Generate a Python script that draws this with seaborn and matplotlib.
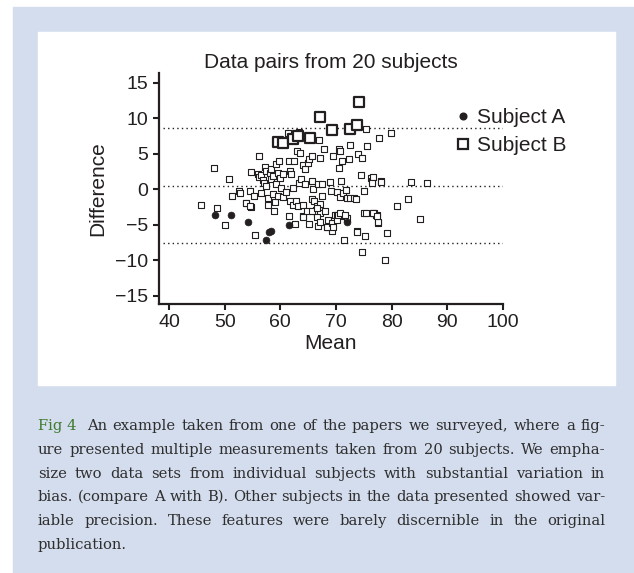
import matplotlib
matplotlib.use("Agg")
import matplotlib.pyplot as plt
import seaborn as sns
import pandas as pd
from matplotlib.patches import Rectangle
from matplotlib.lines import Line2D

# ---------------------------------------------------------------------------
# Data (mean vs. difference, Bland-Altman style)

others_mean = [
    45.7, 48.1, 48.6, 50.1, 50.8, 51.4, 52.5, 52.7, 53.9, 54.7, 54.5, 54.8, 55.3, 56.2,
    55.4, 55.9, 56.2, 56.5, 56.6, 56.8, 57.1, 57.3, 57.4, 57.5, 57.8, 57.8, 58.1, 58.3,
    58.4, 58.6, 58.7, 58.9, 59.0, 59.2, 59.3, 59.5, 59.6, 59.8, 59.9, 60.2, 60.4, 60.5,
    61.0, 61.6, 61.7, 61.8, 61.6, 62.0, 62.2, 62.3, 62.4, 62.7, 62.9, 63.0, 63.2, 63.3,
    63.5, 63.8, 64.0, 64.0, 64.1, 64.4, 64.4, 64.8, 64.9, 65.1, 65.2, 65.6, 65.6, 65.7,
    65.9, 66.0, 66.2, 66.4, 66.5, 66.5, 66.8, 66.8, 67.0, 67.1, 67.1, 67.2, 67.4, 67.5,
    67.8, 68.1, 68.3, 68.6, 68.9, 69.1, 69.2, 69.3, 69.4, 69.6, 69.8, 70.1, 70.2, 70.5,
    70.6, 70.7, 70.9, 71.0, 70.8, 71.3, 71.4, 71.5, 71.8, 71.9, 71.9, 72.3, 72.5, 72.6,
    73.2, 73.6, 73.8, 74.0, 74.4, 74.6, 74.7, 75.0, 75.1, 75.2, 75.4, 75.5, 76.2, 76.5,
    76.7, 77.3, 77.5, 77.8, 78.0, 61.3, 63.4, 79.9, 76.6, 76.4, 78.1, 83.4, 86.4, 81.0,
    83.0, 76.8, 77.2, 77.6, 85.1, 79.1, 78.8, 53.8, 54.5, 64.1, 65.7, 66.5, 66.6, 67.2,
    68.4, 69.2, 69.4, 70.1, 70.4, 70.7, 71.6, 73.8, 75.4, 76.7, 77.4,
]
others_diff = [
    -2.2, 3.0, -2.7, -5.0, 1.5, -0.9, -0.2, -0.6, -2.0, 2.4, -0.3, -2.5, -1.0, 4.6,
    -6.4, 2.1, 1.7, -0.5, 2.0, 1.3, 0.8, 3.1, 2.5, 0.4, -1.2, -2.2, 2.3, 1.4,
    2.8, 1.8, -0.7, -3.0, -1.8, 3.5, 0.7, -1.0, 2.3, 3.9, 1.6, 0.2, -1.1, 2.1,
    -0.4, 3.9, 2.5, -1.7, -3.8, 2.1, 0.1, -2.2, 3.9, -4.9, -1.7, 5.4, -2.3, 0.8,
    5.1, 1.4, -2.2, -3.8, 3.4, 0.7, 2.8, -3.0, 3.7, -4.9, 4.2, 4.6, 1.2, -1.4,
    0.0, -1.7, -3.0, -2.9, -3.4, -2.3, -5.2, 0.7, 6.9, -2.1, -3.3, 4.4, -0.9, 0.7,
    5.6, -3.0, -5.3, -4.3, 1.0, -0.2, -5.2, -5.9, 4.6, -4.3, -3.7, -0.4, -3.6, 3.0,
    5.6, 5.3, 1.1, 3.9, -1.1, -0.5, -7.1, -3.8, -0.1, -4.1, -1.3, 4.3, 6.2, -1.2,
    -1.2, -1.4, -5.9, 4.9, 2.0, 4.4, -8.8, -0.2, -3.4, -6.6, 8.4, 6.1, 1.6, 1.2,
    -3.4, -3.6, -4.7, 7.2, 1.1, 7.9, 8.1, 7.9, 1.7, 0.8, 1.0, 1.0, 0.9, -2.3,
    -1.4, -3.3, -3.7, -4.6, -4.2, -6.1, -10.0, -1.9, -2.3, -3.9, -3.1, -2.7, -3.9, -4.6,
    -5.3, -4.7, -5.3, -4.4, -3.6, -3.3, -3.7, -6.0, -3.4, -3.3, -3.8,
]

subject_a_mean = [48.3, 51.1, 54.1, 58.0, 58.3, 57.5, 61.6, 71.9]
subject_a_diff = [-3.7, -3.7, -4.6, -6.0, -5.9, -7.2, -5.0, -4.6]

subject_b_mean = [59.6, 60.4, 62.3, 63.2, 65.4, 67.2, 69.2, 72.5, 73.7, 74.2]
subject_b_diff = [6.7, 6.5, 7.1, 7.5, 7.2, 10.2, 8.3, 8.4, 9.0, 12.2]

# bias and limits of agreement (dotted lines)
ref_lines = [8.55, 0.5, -7.6]

x_ticks = [40, 50, 60, 70, 80, 90, 100]
y_ticks = [-15, -10, -5, 0, 5, 10, 15]

title = "Data pairs from 20 subjects"
caption_lines = [
    "An example taken from one of the papers we surveyed, where a fig-",
    "ure presented multiple measurements taken from 20 subjects. We empha-",
    "size two data sets from individual subjects with substantial variation in",
    "bias. (compare A with B). Other subjects in the data presented showed var-",
    "iable precision. These features were barely discernible in the original",
    "publication.",
]

# ---------------------------------------------------------------------------

BLUE = "#d4ddee"
INK = "#231f20"
GREEN = "#3d7a2c"
CAPTION_INK = "#2e2e2e"

sns.set_style("ticks")
plt.rcParams["font.family"] = ["Liberation Sans", "DejaVu Sans"]

W, H = 634, 573
fig = plt.figure(figsize=(W / 100, H / 100), dpi=100)
fig.patch.set_facecolor("white")
fig.patches.append(Rectangle((13 / W, 0), 1 - 13 / W, (H - 7) / H,
                             transform=fig.transFigure, color=BLUE, zorder=-2))
fig.patches.append(Rectangle((38 / W, (H - 385) / H), (615 - 38) / W, (385 - 32) / H,
                             transform=fig.transFigure, color="white", zorder=-1))

ax = fig.add_axes([159 / W, (H - 304) / H, (503 - 159) / W, (304 - 73) / H])
ax.patch.set_alpha(0)

others = pd.DataFrame({"mean": others_mean, "diff": others_diff})
subj_a = pd.DataFrame({"mean": subject_a_mean, "diff": subject_a_diff})
subj_b = pd.DataFrame({"mean": subject_b_mean, "diff": subject_b_diff})

for y in ref_lines:
    ax.hlines(y, 39.0, 100, colors=INK, linestyles=(0, (1, 2.3)), linewidth=1.0, zorder=1)

sns.scatterplot(data=others, x="mean", y="diff", marker="s", s=14,
                facecolor="white", edgecolor=INK, linewidth=0.8, ax=ax, zorder=2)
sns.scatterplot(data=subj_b, x="mean", y="diff", marker="s", s=48,
                facecolor="white", edgecolor=INK, linewidth=1.6, ax=ax, zorder=3)
sns.scatterplot(data=subj_a, x="mean", y="diff", marker="o", s=24,
                color=INK, edgecolor=INK, linewidth=0.5, ax=ax, zorder=4)

ax.set_xlim(38.2, 100)
ax.set_ylim(-16.15, 16.34)
ax.set_xticks(x_ticks)
ax.set_yticks(y_ticks)
sns.despine(ax=ax)
for side in ("left", "bottom"):
    ax.spines[side].set_linewidth(1.6)
    ax.spines[side].set_color(INK)
ax.tick_params(direction="out", length=4.5, width=1.5, color=INK,
               labelsize=14, labelcolor=INK, pad=3)
ax.set_xlabel("Mean", fontsize=15, color=INK, labelpad=2)
ax.set_ylabel("Difference", fontsize=15, color=INK, labelpad=6)
ax.set_title(title, fontsize=15, color=INK, pad=3.5)

handles = [
    Line2D([], [], ls="none", marker="o", markersize=4.8, color=INK),
    Line2D([], [], ls="none", marker="s", markersize=7.2, markerfacecolor="white",
           markeredgecolor=INK, markeredgewidth=1.6),
]
fig.legend(handles, ["Subject A", "Subject B"], loc="upper left",
           bbox_to_anchor=(456 / W, 1 - 108 / H), frameon=False, fontsize=15,
           handlelength=0.7, handletextpad=0.3, labelspacing=0.45,
           borderpad=0, borderaxespad=0, labelcolor=INK)

# ---------------------------------------------------------------------------
# Justified caption

SERIF = ["DejaVu Serif"]
X0, X1 = 38, 605
line_y = [426, 450, 474, 497, 521, 545]

renderer = fig.canvas.get_renderer()

# pick the largest size at which every justified line still fits
probe = fig.text(0, 0, "", family=SERIF, fontsize=12.5)
widest = 0
for i, text in enumerate(caption_lines[:-1]):
    probe.set_text(("Fig 4  " if i == 0 else "") + text)
    widest = max(widest, probe.get_window_extent(renderer).width)
probe.remove()
CAP_FS = min(12.5, 12.5 * (X1 - X0 - 4) / widest)


def place_line(words, y_px, justify, lead=None):
    arts = []
    if lead is not None:
        arts.append(fig.text(0, 1 - y_px / H, lead, color=GREEN, fontsize=CAP_FS,
                             family=SERIF, va="center", ha="left"))
    for w in words:
        arts.append(fig.text(0, 1 - y_px / H, w, color=CAPTION_INK, fontsize=CAP_FS,
                             family=SERIF, va="center", ha="left"))
    widths = [a.get_window_extent(renderer).width for a in arts]
    extra = 5 if lead is not None else 0
    if justify and len(arts) > 1:
        gap = (X1 - X0 - sum(widths) - extra) / (len(arts) - 1)
    else:
        gap = 4.0
    x = X0
    for i, (a, w) in enumerate(zip(arts, widths)):
        a.set_x(x / W)
        x += w + gap + (extra if (i == 0 and lead is not None) else 0)


for i, (text, y) in enumerate(zip(caption_lines, line_y)):
    last = i == len(caption_lines) - 1
    place_line(text.split(" "), y, justify=not last, lead="Fig 4" if i == 0 else None)

fig.savefig("out.png", dpi=100)
